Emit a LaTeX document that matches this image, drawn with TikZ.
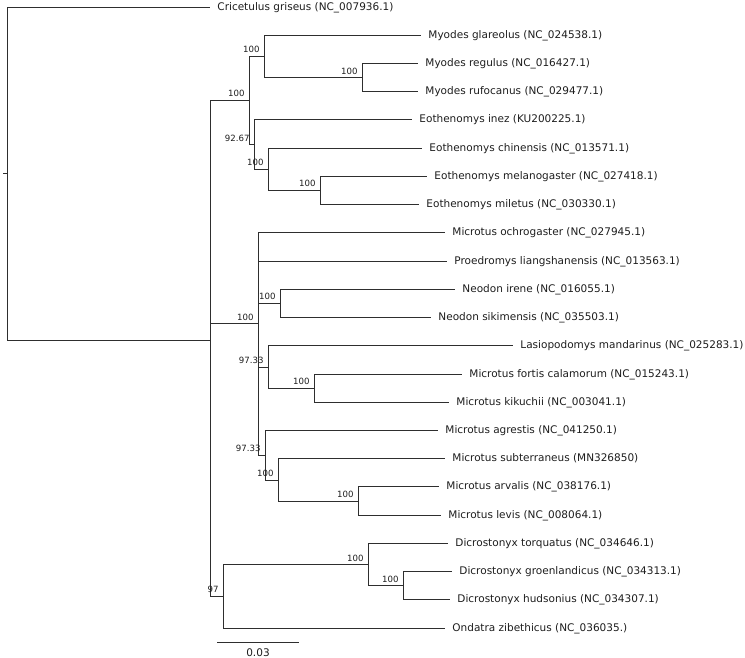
\documentclass[tikz,border=0pt]{standalone}
\usepackage{fontspec}
\setmainfont{DejaVu Sans}
\usetikzlibrary{calc}
\definecolor{branch}{HTML}{2E2E2E}
\definecolor{txt}{HTML}{1E1E1E}

\begin{document}
\begin{tikzpicture}[
    x=1pt, y=-1pt,
    line width=0.9pt,
    edge/.style   = {draw=branch, line width=0.9pt},
    taxon/.style  = {anchor=west, inner xsep=7pt, inner ysep=1pt, text=txt,
                     text depth=1.9pt, font=\fontsize{10.5}{12}\selectfont},
    boot/.style   = {anchor=south east, inner sep=0pt, text=txt,
                     font=\fontsize{8.6}{10}\selectfont},
    scalelbl/.style = {anchor=north, inner sep=0pt, text=txt,
                     font=\fontsize{10.5}{12}\selectfont},
  ]

  % ===================================================================
  % Canvas (pixel grid of the figure, y grows downwards)
  % ===================================================================
  \fill[white] (0,0) rectangle (745,658);
  \useasboundingbox (0,0) rectangle (745,658);

  % ===================================================================
  % Internal nodes of the tree
  % ===================================================================
  \coordinate (root) at (3,173.6);
  \coordinate (base) at (7,173.6);
  \coordinate (arv)  at (210,340.3);   % Arvicolinae
  \coordinate (myeo) at (249,100.5);   % Myodes + Eothenomys
  \coordinate (myo)  at (264,56.4);
  \coordinate (myo2) at (362,77.6);
  \coordinate (eot)  at (254,144.6);
  \coordinate (eot2) at (268,169.3);
  \coordinate (eot3) at (320,190.5);
  \coordinate (mic)  at (258,323.9);   % Microtus group
  \coordinate (neo)  at (280,303.4);
  \coordinate (las)  at (268,367.0);
  \coordinate (las2) at (314,388.1);
  \coordinate (agr)  at (265,455.3);
  \coordinate (agr2) at (278,480.1);
  \coordinate (agr3) at (358,501.0);
  \coordinate (dio)  at (223,596.4);   % Dicrostonyx + Ondatra
  \coordinate (dic)  at (368,564.6);
  \coordinate (dic2) at (403,585.7);

  % ===================================================================
  % Tips (node west = end of the terminal branch)
  % ===================================================================
  \node[taxon] (cgri) at (210,7.0)   {Cricetulus griseus (NC\_007936.1)};
  \node[taxon] (mgla) at (421,35.2)  {Myodes glareolus (NC\_024538.1)};
  \node[taxon] (mreg) at (418,63.5)  {Myodes regulus (NC\_016427.1)};
  \node[taxon] (mruf) at (418,91.7)  {Myodes rufocanus (NC\_029477.1)};
  \node[taxon] (eine) at (412,119.9) {Eothenomys inez (KU200225.1)};
  \node[taxon] (echi) at (422,148.2) {Eothenomys chinensis (NC\_013571.1)};
  \node[taxon] (emel) at (427,176.4) {Eothenomys melanogaster (NC\_027418.1)};
  \node[taxon] (emil) at (419,204.6) {Eothenomys miletus (NC\_030330.1)};
  \node[taxon] (moch) at (445,232.8) {Microtus ochrogaster (NC\_027945.1)};
  \node[taxon] (plia) at (447,261.1) {Proedromys liangshanensis (NC\_013563.1)};
  \node[taxon] (nire) at (455,289.3) {Neodon irene (NC\_016055.1)};
  \node[taxon] (nsik) at (431,317.5) {Neodon sikimensis (NC\_035503.1)};
  \node[taxon] (lman) at (513,345.8) {Lasiopodomys mandarinus (NC\_025283.1)};
  \node[taxon] (mfor) at (462,374.0) {Microtus fortis calamorum (NC\_015243.1)};
  \node[taxon] (mkik) at (449,402.2) {Microtus kikuchii (NC\_003041.1)};
  \node[taxon] (magr) at (438,430.5) {Microtus agrestis (NC\_041250.1)};
  \node[taxon] (msub) at (445,458.7) {Microtus subterraneus (MN326850)};
  \node[taxon] (marv) at (439,486.9) {Microtus arvalis (NC\_038176.1)};
  \node[taxon] (mlev) at (441,515.1) {Microtus levis (NC\_008064.1)};
  \node[taxon] (dtor) at (448,543.4) {Dicrostonyx torquatus (NC\_034646.1)};
  \node[taxon] (dgro) at (452,571.6) {Dicrostonyx groenlandicus (NC\_034313.1)};
  \node[taxon] (dhud) at (450,599.8) {Dicrostonyx hudsonius (NC\_034307.1)};
  \node[taxon] (ozib) at (445,628.1) {Ondatra zibethicus (NC\_036035.)};

  % ===================================================================
  % Branches (parent |- child)
  % ===================================================================
  \draw[edge] (root) -- (base);
  \foreach \p/\c in {base/cgri.west, base/arv,
                     arv/myeo, arv/mic, arv/dio,
                     myeo/myo, myeo/eot,
                     myo/mgla.west, myo/myo2,
                     myo2/mreg.west, myo2/mruf.west,
                     eot/eine.west, eot/eot2,
                     eot2/echi.west, eot2/eot3,
                     eot3/emel.west, eot3/emil.west,
                     mic/moch.west, mic/plia.west, mic/neo, mic/las, mic/agr,
                     neo/nire.west, neo/nsik.west,
                     las/lman.west, las/las2,
                     las2/mfor.west, las2/mkik.west,
                     agr/magr.west, agr/agr2,
                     agr2/msub.west, agr2/agr3,
                     agr3/marv.west, agr3/mlev.west,
                     dio/dic, dio/ozib.west,
                     dic/dtor.west, dic/dic2,
                     dic2/dgro.west, dic2/dhud.west}
    \draw[edge] (\p) |- (\c);

  % ===================================================================
  % Bootstrap support, just above-left of each clade node
  % ===================================================================
  \foreach \n/\v in {myeo/100, myo/100, myo2/100, eot/92.67, eot2/100,
                     eot3/100, mic/100, neo/100, las/97.33, las2/100,
                     agr/97.33, agr2/100, agr3/100, dio/97, dic/100, dic2/100}
    \node[boot] (bs-\n) at ($(\n)+(-4,-3)$) {\v};

  % ===================================================================
  % Scale bar
  % ===================================================================
  \coordinate (sb-l) at (217,642);
  \coordinate (sb-r) at (299,642);
  \draw[edge] (sb-l) -- (sb-r);
  \node[scalelbl] (sb-txt) at ($($(sb-l)!0.5!(sb-r)$)+(0,6)$) {0.03};

\end{tikzpicture}
\end{document}
